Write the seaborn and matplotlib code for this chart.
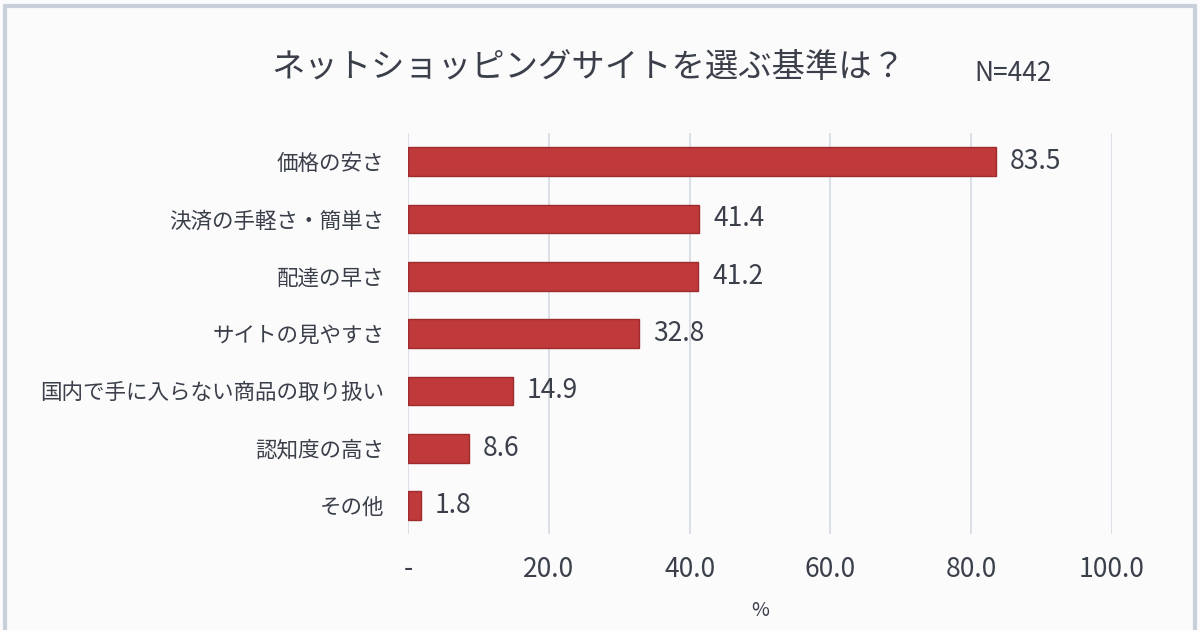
import matplotlib
matplotlib.use("Agg")
import matplotlib.pyplot as plt
import seaborn as sns
import pandas as pd
from matplotlib.patches import Rectangle

categories = ["価格の安さ", "決済の手軽さ・簡単さ", "配達の早さ", "サイトの見やすさ",
              "国内で手に入らない商品の取り扱い", "認知度の高さ", "その他"]
values = [83.5, 41.4, 41.2, 32.8, 14.9, 8.6, 1.8]
xticks = [0, 20, 40, 60, 80, 100]
xtick_labels = ["-", "20.0", "40.0", "60.0", "80.0", "100.0"]
title = "ネットショッピングサイトを選ぶ基準は？"
n_label = "N=442"

sns.set_theme(style="white")
plt.rcParams['font.family'] = ['Noto Sans CJK JP', 'DejaVu Sans']

df = pd.DataFrame({"cat": categories, "val": values})

fig = plt.figure(figsize=(12, 6.3), dpi=100)
fig.patch.set_facecolor("#fbfbfc")
ax = fig.add_axes([0.34, 0.152, 0.5867, 0.637])
ax.set_facecolor("#fbfbfc")

sns.barplot(data=df, x="val", y="cat", orient="h", ax=ax, color="#c0393b",
            width=0.5, edgecolor="#9e2b2d", linewidth=1.0, saturation=1)

txt = "#3a3f4a"
for i, v in enumerate(values):
    ax.text(v + 2.0, i, f"{v:.1f}", va="center", ha="left", fontsize=19, color=txt)

ax.set_xlim(0, 100)
ax.set_ylim(6.5, -0.5)
ax.set_xticks(xticks)
ax.set_xticklabels(xtick_labels, fontsize=19, color=txt)
ax.tick_params(axis="y", labelsize=15.5, colors=txt, length=0, pad=17)
ax.tick_params(axis="x", length=0, pad=16)
ax.set_ylabel("")
ax.set_xlabel("%", fontsize=14, color=txt, labelpad=12)
ax.xaxis.grid(True, color="#d5dae3", linewidth=1.2)
ax.set_axisbelow(True)
for s in ax.spines.values():
    s.set_visible(False)

fig.text(0.49, 0.893, title, ha="center", va="center", fontsize=24, color=txt)
fig.text(0.812, 0.883, n_label, ha="left", va="center", fontsize=19, color=txt)

fig.add_artist(Rectangle((0.004, -0.01), 0.992, 1.0, transform=fig.transFigure,
                         fill=False, edgecolor="#c9d0db", linewidth=3))

fig.savefig("out.png", dpi=100, facecolor=fig.get_facecolor())
